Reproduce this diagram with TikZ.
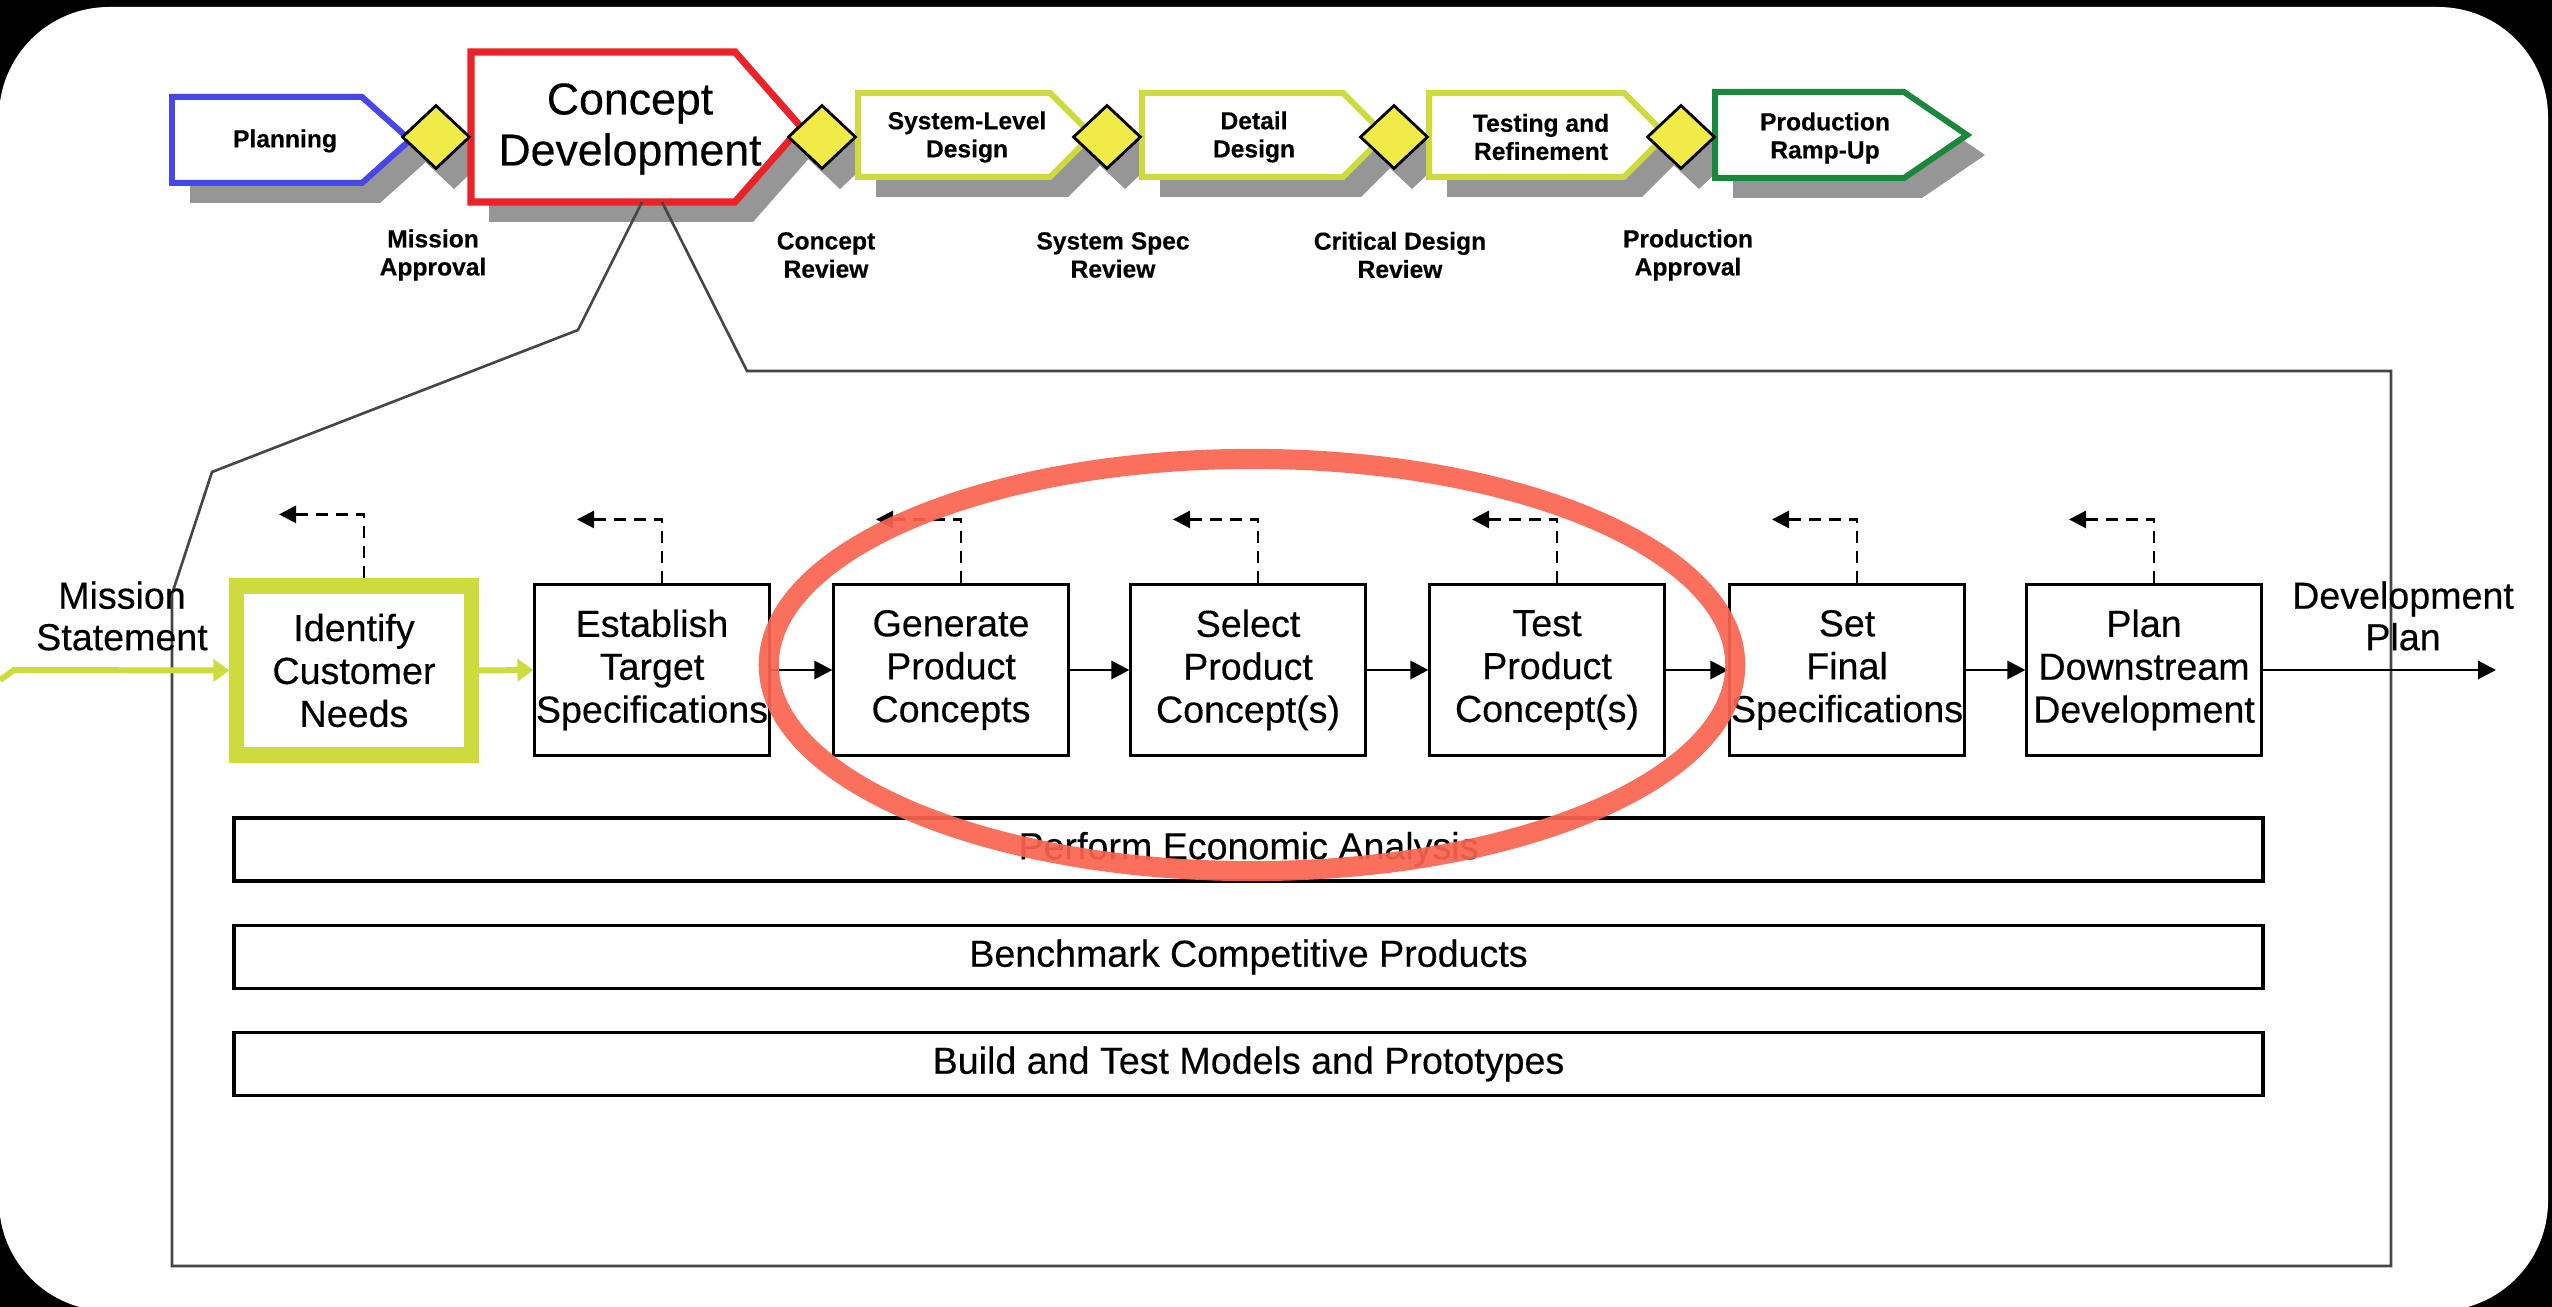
\documentclass[tikz,border=0pt]{standalone}
\usepackage{fontspec}
\setmainfont{Liberation Sans}[FakeBold=0.35]
\usetikzlibrary{shapes.geometric,arrows.meta}
\definecolor{ygreen}{RGB}{205,220,60}
\definecolor{gateyellow}{RGB}{240,235,70}
\definecolor{phblue}{RGB}{70,70,235}
\definecolor{phred}{RGB}{235,35,40}
\definecolor{phgreen}{RGB}{25,135,60}
\definecolor{shgray}{RGB}{150,150,150}
\definecolor{ellred}{RGB}{250,100,80}
\definecolor{zoomgray}{RGB}{70,70,70}
\tikzset{
  phase/.style={fill=white, line width=1.7pt, line join=miter},
  gate/.style={diamond, draw=black, fill=gateyellow, line width=0.8pt, minimum width=0.68cm, minimum height=0.64cm, inner sep=0pt},
  phasetext/.style={font=\fontsize{7}{8}\selectfont\bfseries, align=center, inner sep=0pt},
  cdtext/.style={font=\fontsize{12.7}{14.5}\selectfont, align=center, inner sep=0pt},
  stepbox/.style={draw=black, fill=white, line width=0.85pt, minimum width=2.34cm, minimum height=1.70cm, inner sep=0pt, align=center, font=\fontsize{10.7}{12.2}\selectfont},
  firstbox/.style={stepbox, draw=ygreen, line width=4.3pt, minimum height=1.69cm},
  flow/.style={draw=black, line width=0.85pt, -{Triangle[length=0.18cm,width=0.18cm]}},
  ygflow/.style={draw=ygreen, line width=1.7pt, -{Triangle[length=0.16cm,width=0.22cm]}},
  feedback/.style={draw=black, line width=0.8pt, dash pattern=on 0.12cm off 0.08cm, -{Triangle[length=0.17cm,width=0.17cm]}},
  bar/.style={draw=black, fill=white, line width=1.1pt, minimum width=20.27cm, minimum height=0.63cm, inner sep=0pt, font=\fontsize{10.7}{12.2}\selectfont},
  sidetext/.style={align=center, inner sep=0pt, font=\fontsize{10.7}{11.8}\selectfont},
  zoomline/.style={draw=zoomgray, line width=0.75pt, line join=miter},
}
\begin{document}
\begin{tikzpicture}[x=0.01cm, y=-0.01cm]
\useasboundingbox (0,0) rectangle (2552,1307);
\fill[black] (0,0) rectangle (2552,1307);
\fill[white, rounded corners=1.1cm] (-1,7) rectangle (2548,1311);

% ---- shadows of the phase bar ----
\fill[shgray] (190,117) -- (380,117) -- (428,160) -- (380,203) -- (190,203) -- cycle;
\fill[shgray] (489,72) -- (753,72) -- (819,147) -- (753,222) -- (489,222) -- cycle;
\fill[shgray] (876,113) -- (1068,113) -- (1110,155) -- (1068,197) -- (876,197) -- cycle;
\fill[shgray] (1160,113) -- (1361,113) -- (1403,155) -- (1361,197) -- (1160,197) -- cycle;
\fill[shgray] (1447,113) -- (1642,113) -- (1684,155) -- (1642,197) -- (1447,197) -- cycle;
\fill[shgray] (1733,112) -- (1922,112) -- (1985,155) -- (1922,198) -- (1733,198) -- cycle;
\foreach \cx in {454,840,1125,1412,1699}
  \fill[shgray] (\cx,125) -- (\cx+34,157) -- (\cx,189) -- (\cx-34,157) -- cycle;

% ---- phase shapes ----
\draw[phase, draw=phblue] (172,97) -- (362,97) -- (410,140) -- (362,183) -- (172,183) -- cycle;
\draw[phase, draw=phred, line width=2pt] (471,52) -- (735,52) -- (801,127) -- (735,202) -- (471,202) -- cycle;
\draw[phase, draw=ygreen] (858,93) -- (1050,93) -- (1092,135) -- (1050,177) -- (858,177) -- cycle;
\draw[phase, draw=ygreen] (1142,93) -- (1343,93) -- (1385,135) -- (1343,177) -- (1142,177) -- cycle;
\draw[phase, draw=ygreen] (1429,93) -- (1624,93) -- (1666,135) -- (1624,177) -- (1429,177) -- cycle;
\draw[phase, draw=phgreen] (1715,92) -- (1904,92) -- (1967,135) -- (1904,178) -- (1715,178) -- cycle;

\node[phasetext] (tplan) at (285,141) {Planning};
\node[cdtext] (tcd) at (630,129) {Concept\\Development};
\node[phasetext] (tsl) at (967,137) {System-Level\\Design};
\node[phasetext] (tdd) at (1254,137) {Detail\\Design};
\node[phasetext] (ttr) at (1541,137) {Testing and\\Refinement};
\node[phasetext] (tpr) at (1825,138) {Production\\Ramp-Up};

% ---- gates ----
\node[gate] (g1) at (436,137) {};
\node[gate] (g2) at (822,137) {};
\node[gate] (g3) at (1107,137) {};
\node[gate] (g4) at (1394,137) {};
\node[gate] (g5) at (1681,137) {};

\node[phasetext] (lg1) at (433,255) {Mission\\Approval};
\node[phasetext] (lg2) at (826,255) {Concept\\Review};
\node[phasetext] (lg3) at (1113,255) {System Spec\\Review};
\node[phasetext] (lg4) at (1400,255) {Critical Design\\Review};
\node[phasetext] (lg5) at (1688,255) {Production\\Approval};

% ---- zoom-out outline ----
\coordinate (cdl) at (642,202);
\coordinate (cdr) at (662,202);
\draw[zoomline] (cdl) -- (578,330) -- (212,472) -- (172,594) -- (172,1266)
  -- (2391,1266) -- (2391,371) -- (747,371) -- (cdr);

% ---- main flow ----
\node[firstbox] (n1) at (354,670.5) {Identify\\Customer\\Needs};
\node[stepbox] (n2) at (652,670) {Establish\\Target\\Specifications};
\node[stepbox] (n3) at (951,670) {Generate\\Product\\Concepts};
\node[stepbox] (n4) at (1248,670) {Select\\Product\\Concept(s)};
\node[stepbox] (n5) at (1547,670) {Test\\Product\\Concept(s)};
\node[stepbox] (n6) at (1847,670) {Set\\Final\\Specifications};
\node[stepbox] (n7) at (2144,670) {Plan\\Downstream\\Development};

\node[sidetext] (mission) at (122,616) {Mission\\Statement};
\node[sidetext] (devplan) at (2403,616) {Development\\Plan};

\coordinate (ms0) at (0,680);
\coordinate (ms1) at (14,670);
\draw[ygflow] (ms0) -- (ms1) -- (n1.west);
\draw[ygflow] (n1.east) -- (n2.west);
\draw[flow] (n2) -- (n3);
\draw[flow] (n3) -- (n4);
\draw[flow] (n4) -- (n5);
\draw[flow] (n5) -- (n6);
\draw[flow] (n6) -- (n7);
\coordinate (devend) at (2496,670);
\draw[flow] (n7.east) -- (devend);

\foreach \n in {n1,n2,n3,n4,n5,n6,n7}
  \draw[feedback] ([xshift=0.1cm]\n.north) -- ++(0,-64) -- ++(-85,0);

% ---- activity bars ----
\node[bar] (b1) at (1248.5,849.5) {Perform Economic Analysis};
\node[bar] (b2) at (1248.5,957) {Benchmark Competitive Products};
\node[bar] (b3) at (1248.5,1064) {Build and Test Models and Prototypes};

% ---- highlight ellipse ----
\draw[ellred, opacity=0.92, line width=5.7pt] (1252,665) ellipse [x radius=4.83cm, y radius=2.06cm];
\end{tikzpicture}
\end{document}
